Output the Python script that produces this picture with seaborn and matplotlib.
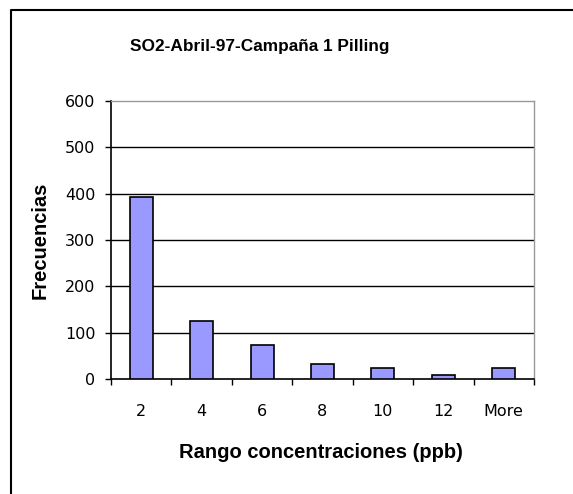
import matplotlib
matplotlib.use("Agg")
import matplotlib.pyplot as plt
import seaborn as sns
import numpy as np
from matplotlib.lines import Line2D

categories = ["2", "4", "6", "8", "10", "12", "More"]
frequencies = [393, 125, 74, 32, 24, 8, 24]
yticks = [0, 100, 200, 300, 400, 500, 600]

sns.set_style("white")
plt.rcParams['font.family'] = ['Liberation Sans', 'DejaVu Sans']
plt.rcParams['text.color'] = 'black'
plt.rcParams['axes.labelcolor'] = 'black'
plt.rcParams['xtick.color'] = 'black'
plt.rcParams['ytick.color'] = 'black'

fig = plt.figure(figsize=(5.73, 4.94), dpi=100)
x0, x1, y0, y1 = 111, 534, 379, 101
ax = fig.add_axes([x0/573, 1-y0/494, (x1-x0)/573, (y0-y1)/494])

sns.barplot(x=categories, y=frequencies, order=categories, color="#9999FF",
            edgecolor="black", linewidth=1.2, width=0.38, saturation=1, ax=ax, zorder=3)

ax.set_ylim(0, 600)
ax.set_xlim(-0.5, len(categories) - 0.5)
ax.set_yticks(yticks)
ax.set_yticklabels([str(v) for v in yticks], fontsize=11.5, family='DejaVu Sans')
for v in yticks[1:-1]:
    ax.axhline(v, color="black", linewidth=1.0, zorder=1)
ax.tick_params(axis='y', which='major', left=True, direction='out', length=4.3, width=1.0,
               color='black', pad=7, labelcolor='black')
ax.set_xticks(range(len(categories)))
ax.set_xticklabels(categories, fontsize=11.5, family='DejaVu Sans')
ax.tick_params(axis='x', which='major', bottom=True, length=0, pad=18, labelcolor='black')
ax.set_xticks(np.arange(-0.5, len(categories), 1.0), minor=True)
ax.tick_params(axis='x', which='minor', bottom=True, direction='out', length=4.3, width=1.0,
               color='black')

for side in ['top', 'right']:
    ax.spines[side].set_color('#999999')
    ax.spines[side].set_linewidth(1.0)
for side in ['left', 'bottom']:
    ax.spines[side].set_color('black')
    ax.spines[side].set_linewidth(1.2)
    ax.spines[side].set_visible(True)

ax.set_xlabel("Rango concentraciones (ppb)", fontsize=14.5, fontweight='bold', color='black')
ax.set_ylabel("Frecuencias", fontsize=14.5, fontweight='bold', color='black')
ax.xaxis.set_label_coords((321 - x0) / (x1 - x0), (y0 - 452) / (y0 - y1))
ax.xaxis.label.set_va('center')
ax.yaxis.set_label_coords((40 - x0) / (x1 - x0), (y0 - 240) / (y0 - y1))
ax.yaxis.label.set_va('center')
ax.yaxis.label.set_ha('center')

fig.text(260/573, 1 - 46/494, "SO2-Abril-97-Campaña 1 Pilling",
         ha='center', va='center', fontsize=12.4, fontweight='bold', color='black')

fig.lines.append(Line2D([11/573, 11/573, 1.0], [0.0, 1 - 10/494, 1 - 10/494],
                        transform=fig.transFigure, color='black', linewidth=1.5))

fig.savefig("out.png", dpi=100)
